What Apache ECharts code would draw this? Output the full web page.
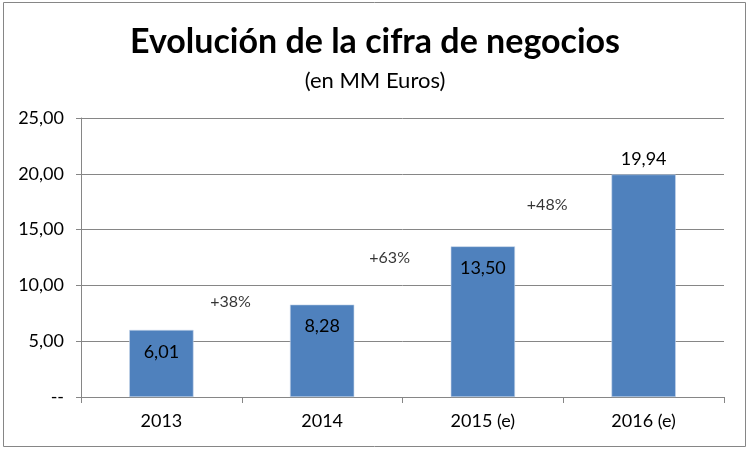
<!DOCTYPE html>
<html>
<head>
<meta charset="utf-8">
<script src="https://cdn.jsdelivr.net/npm/echarts@6/dist/echarts.min.js"></script>
<style>html,body{margin:0;padding:0;background:#fff}#c{width:750px;height:450px}</style>
</head>
<body>
<div id="c"></div>
<script>
var categories = ['2013', '2014', '2015 (e)', '2016 (e)'];
var values = [6.01, 8.28, 13.50, 19.94];
var growthLabels = ['+38%', '+63%', '+48%'];
var growthX = [0.93, 1.92, 2.9];
var growthY = [8.5, 12.45, 17.2];
var yTicks = [0, 5, 10, 15, 20, 25];

var fmt = function (v) { return v.toFixed(2).replace('.', ','); };
var FONT = 'Lato';
var growthData = growthLabels.map(function (t, i) { return [growthX[i], growthY[i], t]; });
var barData = values.map(function (v, i) {
  return i === values.length - 1
    ? { value: v, label: { position: 'top', distance: 6 } }
    : { value: v, label: { position: 'insideTop', distance: 13 } };
});

var chart = echarts.init(document.getElementById('c'));
chart.setOption({
  animation: false,
  textStyle: { fontFamily: FONT },
  title: [
    { text: 'Evolución de la cifra de negocios', left: 'center', top: 20,
      textStyle: { fontFamily: FONT, fontSize: 34, fontWeight: 'bold', color: '#000' } },
    { text: '(en MM Euros)', left: 'center', top: 65,
      textStyle: { fontFamily: FONT, fontSize: 22, fontWeight: 'normal', color: '#000' } }
  ],
  graphic: [{ type: 'rect', shape: { x: 3.5, y: 2.5, width: 742, height: 444 },
    style: { fill: 'none', stroke: '#868686', lineWidth: 1 }, silent: true }],
  grid: { left: 81, right: 26, top: 118, bottom: 53 },
  xAxis: [
    { type: 'category', data: categories,
      axisLine: { show: true, lineStyle: { color: '#868686' } },
      axisTick: { show: true, length: 6, lineStyle: { color: '#868686' } },
      axisLabel: { fontFamily: FONT, fontSize: 18, color: '#000', margin: 15 } },
    { type: 'value', min: 0, max: 4, show: false }
  ],
  yAxis: {
    type: 'value', min: yTicks[0], max: yTicks[yTicks.length - 1], interval: 5,
    axisLine: { show: true, lineStyle: { color: '#868686' } },
    axisTick: { show: true, length: 5, lineStyle: { color: '#868686' } },
    splitLine: { lineStyle: { color: '#868686' } },
    axisLabel: { fontFamily: FONT, fontSize: 18, color: '#000', margin: 17,
      formatter: function (v) { return v === 0 ? '--' : fmt(v); } }
  },
  series: [
    { type: 'bar', data: barData, barWidth: '40%', xAxisIndex: 0,
      itemStyle: { color: '#4F81BD', borderColor: '#C6D5EA', borderWidth: 0.6 },
      label: { show: true, fontFamily: FONT, fontSize: 18, color: '#000',
        formatter: function (p) { return fmt(p.value); } }
    },
    { type: 'scatter', xAxisIndex: 1, data: growthData, symbolSize: 1,
      itemStyle: { color: 'rgba(0,0,0,0)' },
      label: { show: true, position: 'inside', fontFamily: FONT, fontSize: 16, color: '#000',
        formatter: function (p) { return p.value[2]; } } }
  ]
});
</script>
</body>
</html>
